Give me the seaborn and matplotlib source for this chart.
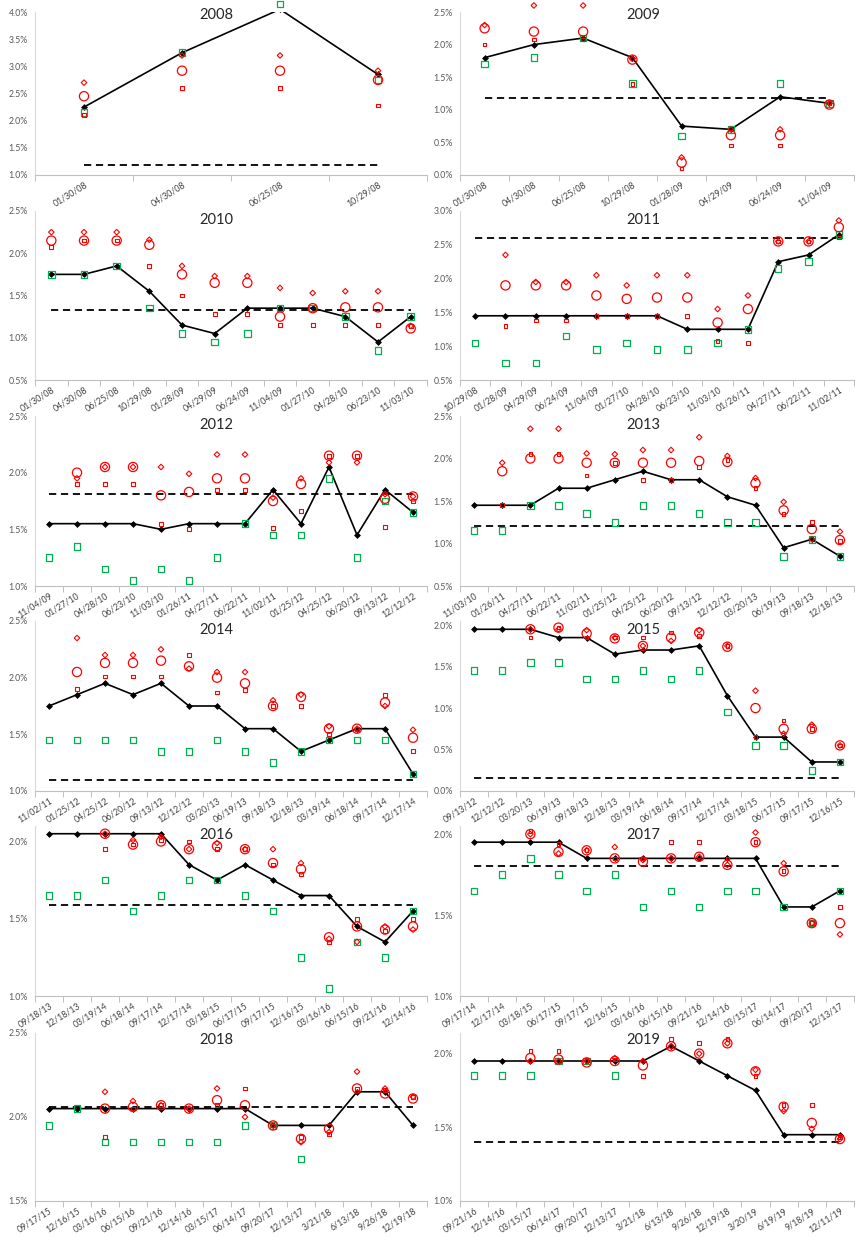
import numpy as np
import pandas as pd
import matplotlib
matplotlib.use("Agg")
import matplotlib.pyplot as plt
import seaborn as sns

nan = np.nan

# ---- data (values in %) ----
dates_2008 = ["01/30/08", "04/30/08", "06/25/08", "10/29/08"]
black_2008 = [2.25, 3.25, 4.05, 2.85]
target_2008 = 1.19
circle_2008 = [2.45, 2.92, 2.92, 2.75]
diamond_2008 = [2.70, 3.20, 3.20, 2.92]
square_2008 = [2.10, 2.60, 2.60, 2.28]
green_2008 = [2.15, 3.25, 4.15, 2.75]

dates_2009 = ["01/30/08", "04/30/08", "06/25/08", "10/29/08", "01/28/09", "04/29/09", "06/24/09", "11/04/09"]
black_2009 = [1.80, 2.00, 2.10, 1.80, 0.75, 0.70, 1.20, 1.10]
target_2009 = 1.18
circle_2009 = [2.25, 2.20, 2.20, 1.77, 0.19, 0.61, 0.61, 1.08]
diamond_2009 = [2.30, 2.60, 2.60, 1.78, 0.27, 0.70, 0.70, 1.10]
square_2009 = [2.00, 2.08, 2.08, 1.40, 0.10, 0.45, 0.45, 1.10]
green_2009 = [1.70, 1.80, 2.10, 1.40, 0.60, 0.70, 1.40, 1.10]

dates_2010 = ["01/30/08", "04/30/08", "06/25/08", "10/29/08", "01/28/09", "04/29/09", "06/24/09", "11/04/09",
              "01/27/10", "04/28/10", "06/23/10", "11/03/10"]
black_2010 = [1.75, 1.75, 1.85, 1.55, 1.15, 1.05, 1.35, 1.35, 1.35, 1.25, 0.95, 1.25]
target_2010 = 1.33
circle_2010 = [2.15, 2.15, 2.15, 2.10, 1.75, 1.65, 1.65, 1.25, 1.35, 1.36, 1.36, 1.11]
diamond_2010 = [2.25, 2.25, 2.25, 2.16, 1.85, 1.73, 1.73, 1.59, 1.53, 1.55, 1.55, 1.14]
square_2010 = [2.07, 2.15, 2.15, 1.85, 1.50, 1.28, 1.28, 1.15, 1.15, 1.15, 1.15, 1.14]
green_2010 = [1.75, 1.75, 1.85, 1.35, 1.05, 0.95, 1.05, 1.35, 1.35, 1.25, 0.85, 1.25]

dates_2011 = ["10/29/08", "01/28/09", "04/29/09", "06/24/09", "11/04/09", "01/27/10", "04/28/10", "06/23/10",
              "11/03/10", "01/26/11", "04/27/11", "06/22/11", "11/02/11"]
black_2011 = [1.45, 1.45, 1.45, 1.45, 1.45, 1.45, 1.45, 1.25, 1.25, 1.25, 2.25, 2.35, 2.65]
target_2011 = 2.60
circle_2011 = [nan, 1.90, 1.90, 1.90, 1.75, 1.70, 1.72, 1.72, 1.35, 1.55, 2.55, 2.55, 2.76]
diamond_2011 = [nan, 2.35, 1.95, 1.95, 2.05, 1.90, 2.05, 2.05, 1.55, 1.75, 2.55, 2.55, 2.86]
square_2011 = [nan, 1.30, 1.38, 1.38, 1.45, 1.45, 1.45, 1.45, 1.08, 1.05, 2.55, 2.55, 2.61]
green_2011 = [1.05, 0.75, 0.75, 1.15, 0.95, 1.05, 0.95, 0.95, 1.05, 1.25, 2.15, 2.25, 2.65]

dates_2012 = ["11/04/09", "01/27/10", "04/28/10", "06/23/10", "11/03/10", "01/26/11", "04/27/11", "06/22/11",
              "11/02/11", "01/25/12", "04/25/12", "06/20/12", "09/13/12", "12/12/12"]
black_2012 = [1.55, 1.55, 1.55, 1.55, 1.50, 1.55, 1.55, 1.55, 1.85, 1.55, 2.05, 1.45, 1.85, 1.65]
target_2012 = 1.815
circle_2012 = [nan, 2.00, 2.05, 2.05, 1.80, 1.83, 1.95, 1.95, 1.75, 1.90, 2.15, 2.15, 1.77, 1.79]
diamond_2012 = [nan, 1.95, 2.05, 2.05, 2.05, 1.99, 2.16, 2.16, 1.78, 1.95, 2.09, 2.09, 1.81, 1.79]
square_2012 = [nan, 1.90, 1.90, 1.90, 1.55, 1.50, 1.85, 1.85, 1.51, 1.66, 2.15, 2.15, 1.52, 1.75]
green_2012 = [1.25, 1.35, 1.15, 1.05, 1.15, 1.05, 1.25, 1.55, 1.45, 1.45, 1.95, 1.25, 1.75, 1.65]

dates_2013 = ["11/03/10", "01/26/11", "04/27/11", "06/22/11", "11/02/11", "01/25/12", "04/25/12", "06/20/12",
              "09/13/12", "12/12/12", "03/20/13", "06/19/13", "09/18/13", "12/18/13"]
black_2013 = [1.45, 1.45, 1.45, 1.65, 1.65, 1.75, 1.85, 1.75, 1.75, 1.55, 1.45, 0.95, 1.05, 0.85]
target_2013 = 1.21
circle_2013 = [nan, 1.85, 2.00, 2.00, 1.95, 1.95, 1.95, 1.95, 1.97, 1.96, 1.71, 1.39, 1.17, 1.04]
diamond_2013 = [nan, 1.95, 2.35, 2.35, 2.06, 2.05, 2.10, 2.10, 2.25, 2.03, 1.77, 1.49, 1.05, 1.14]
square_2013 = [nan, 1.45, 2.05, 2.05, 1.80, 1.95, 1.75, 1.75, 1.90, 1.98, 1.65, 1.35, 1.25, 1.03]
green_2013 = [1.15, 1.15, 1.45, 1.45, 1.35, 1.25, 1.45, 1.45, 1.35, 1.25, 1.25, 0.85, 1.05, 0.85]

dates_2014 = ["11/02/11", "01/25/12", "04/25/12", "06/20/12", "09/13/12", "12/12/12", "03/20/13", "06/19/13",
              "09/18/13", "12/18/13", "03/19/14", "06/18/14", "09/17/14", "12/17/14"]
black_2014 = [1.75, 1.85, 1.95, 1.85, 1.95, 1.75, 1.75, 1.55, 1.55, 1.35, 1.45, 1.55, 1.55, 1.15]
target_2014 = 1.10
circle_2014 = [nan, 2.05, 2.13, 2.13, 2.15, 2.10, 2.00, 1.95, 1.75, 1.83, 1.55, 1.55, 1.78, 1.47]
diamond_2014 = [nan, 2.35, 2.20, 2.20, 2.25, 2.08, 2.05, 2.05, 1.80, 1.85, 1.57, 1.55, 1.75, 1.54]
square_2014 = [nan, 1.90, 2.01, 2.01, 2.01, 2.20, 1.87, 1.89, 1.75, 1.75, 1.50, 1.55, 1.85, 1.35]
green_2014 = [1.45, 1.45, 1.45, 1.45, 1.35, 1.35, 1.45, 1.35, 1.25, 1.35, 1.45, 1.45, 1.45, 1.15]

dates_2015 = ["09/13/12", "12/12/12", "03/20/13", "06/19/13", "09/18/13", "12/18/13", "03/19/14", "06/18/14",
              "09/17/14", "12/17/14", "03/18/15", "06/17/15", "09/17/15", "12/16/15"]
black_2015 = [1.95, 1.95, 1.95, 1.85, 1.85, 1.65, 1.70, 1.70, 1.75, 1.15, 0.65, 0.65, 0.35, 0.35]
target_2015 = 0.16
circle_2015 = [nan, nan, 1.95, 1.97, 1.90, 1.84, 1.75, 1.85, 1.91, 1.74, 1.00, 0.75, 0.75, 0.55]
diamond_2015 = [nan, nan, 1.95, 1.95, 1.94, 1.85, 1.75, 1.81, 1.94, 1.75, 1.21, 0.69, 0.80, 0.55]
square_2015 = [nan, nan, 1.85, 1.97, 1.85, 1.85, 1.85, 1.91, 1.87, 1.75, 0.65, 0.85, 0.75, 0.55]
green_2015 = [1.45, 1.45, 1.55, 1.55, 1.35, 1.35, 1.45, 1.35, 1.45, 0.95, 0.55, 0.55, 0.25, 0.35]

dates_2016 = ["09/18/13", "12/18/13", "03/19/14", "06/18/14", "09/17/14", "12/17/14", "03/18/15", "06/17/15",
              "09/17/15", "12/16/15", "03/16/16", "06/15/16", "09/21/16", "12/14/16"]
black_2016 = [2.05, 2.05, 2.05, 2.05, 2.05, 1.85, 1.75, 1.85, 1.75, 1.65, 1.65, 1.45, 1.35, 1.55]
target_2016 = 1.59
circle_2016 = [nan, nan, 2.05, 1.98, 2.00, 1.95, 1.97, 1.95, 1.86, 1.82, 1.38, 1.45, 1.43, 1.45]
diamond_2016 = [nan, nan, 2.05, 2.01, 2.03, 1.95, 1.99, 1.95, 1.95, 1.86, 1.37, 1.35, 1.45, 1.43]
square_2016 = [nan, nan, 1.95, 1.98, 2.01, 2.00, 1.95, 1.95, 1.85, 1.79, 1.35, 1.50, 1.42, 1.50]
green_2016 = [1.65, 1.65, 1.75, 1.55, 1.65, 1.75, 1.75, 1.65, 1.55, 1.25, 1.05, 1.35, 1.25, 1.55]

dates_2017 = ["09/17/14", "12/17/14", "03/18/15", "06/17/15", "09/17/15", "12/16/15", "03/16/16", "06/15/16",
              "09/21/16", "12/14/16", "03/15/17", "06/14/17", "09/20/17", "12/13/17"]
black_2017 = [1.95, 1.95, 1.95, 1.95, 1.85, 1.85, 1.85, 1.85, 1.85, 1.85, 1.85, 1.55, 1.55, 1.65]
target_2017 = 1.80
circle_2017 = [nan, nan, 2.00, 1.89, 1.90, 1.85, 1.83, 1.85, 1.86, 1.81, 1.95, 1.77, 1.45, 1.45]
diamond_2017 = [nan, nan, 2.00, 1.88, 1.90, 1.92, 1.84, 1.85, 1.86, 1.81, 2.01, 1.82, 1.45, 1.38]
square_2017 = [nan, nan, 2.02, 1.94, 1.90, 1.85, 1.85, 1.95, 1.95, 1.85, 1.95, 1.77, 1.45, 1.55]
green_2017 = [1.65, 1.75, 1.85, 1.75, 1.65, 1.75, 1.55, 1.65, 1.55, 1.65, 1.65, 1.55, 1.45, 1.65]

dates_2018 = ["09/17/15", "12/16/15", "03/16/16", "06/15/16", "09/21/16", "12/14/16", "03/15/17", "06/14/17",
              "09/20/17", "12/13/17", "3/21/18", "6/13/18", "9/26/18", "12/19/18"]
black_2018 = [2.05, 2.05, 2.05, 2.05, 2.05, 2.05, 2.05, 2.05, 1.95, 1.95, 1.95, 2.15, 2.15, 1.95]
target_2018 = 2.06
circle_2018 = [nan, nan, 2.05, 2.06, 2.07, 2.05, 2.10, 2.07, 1.95, 1.87, 1.93, 2.17, 2.14, 2.11]
diamond_2018 = [nan, nan, 2.15, 2.095, 2.07, 2.05, 2.17, 2.00, 1.95, 1.85, 1.91, 2.27, 2.17, 2.12]
square_2018 = [nan, nan, 1.88, 2.05, 2.07, 2.05, 2.07, 2.17, 1.95, 1.88, 1.90, 2.17, 2.16, 2.12]
green_2018 = [1.95, 2.05, 1.85, 1.85, 1.85, 1.85, 1.85, 1.95, 1.95, 1.75, nan, nan, nan, nan]

dates_2019 = ["09/21/16", "12/14/16", "03/15/17", "06/14/17", "09/20/17", "12/13/17", "3/21/18", "6/13/18",
              "9/26/18", "12/19/18", "3/20/19", "6/19/19", "9/18/19", "12/11/19"]
black_2019 = [1.95, 1.95, 1.95, 1.95, 1.95, 1.95, 1.95, 2.05, 1.95, 1.85, 1.75, 1.45, 1.45, 1.45]
target_2019 = 1.40
circle_2019 = [nan, nan, 1.97, 1.96, 1.94, 1.95, 1.92, 2.05, 2.00, 2.07, 1.88, 1.64, 1.53, 1.42]
diamond_2019 = [nan, nan, 1.95, 1.95, 1.95, 1.97, 1.95, 2.05, 2.00, 2.07, 1.89, 1.61, 1.49, 1.42]
square_2019 = [nan, nan, 2.02, 2.02, 1.95, 1.96, 1.85, 2.10, 2.07, 2.10, 1.85, 1.65, 1.65, 1.43]
green_2019 = [1.85, 1.85, 1.85, 1.95, 1.95, 1.85, nan, nan, nan, nan, nan, nan, nan, nan]

panels = [
    ("2008", dates_2008, black_2008, target_2008, circle_2008, diamond_2008, square_2008, green_2008, (1.0, 4.0)),
    ("2009", dates_2009, black_2009, target_2009, circle_2009, diamond_2009, square_2009, green_2009, (0.0, 2.5)),
    ("2010", dates_2010, black_2010, target_2010, circle_2010, diamond_2010, square_2010, green_2010, (0.5, 2.5)),
    ("2011", dates_2011, black_2011, target_2011, circle_2011, diamond_2011, square_2011, green_2011, (0.5, 3.0)),
    ("2012", dates_2012, black_2012, target_2012, circle_2012, diamond_2012, square_2012, green_2012, (1.0, 2.5)),
    ("2013", dates_2013, black_2013, target_2013, circle_2013, diamond_2013, square_2013, green_2013, (0.5, 2.5)),
    ("2014", dates_2014, black_2014, target_2014, circle_2014, diamond_2014, square_2014, green_2014, (1.0, 2.5)),
    ("2015", dates_2015, black_2015, target_2015, circle_2015, diamond_2015, square_2015, green_2015, (0.0, 2.05)),
    ("2016", dates_2016, black_2016, target_2016, circle_2016, diamond_2016, square_2016, green_2016, (1.0, 2.1)),
    ("2017", dates_2017, black_2017, target_2017, circle_2017, diamond_2017, square_2017, green_2017, (1.0, 2.05)),
    ("2018", dates_2018, black_2018, target_2018, circle_2018, diamond_2018, square_2018, green_2018, (1.5, 2.5)),
    ("2019", dates_2019, black_2019, target_2019, circle_2019, diamond_2019, square_2019, green_2019, (1.0, 2.14)),
]

sns.set_theme(style="white")
plt.rcParams["font.family"] = ["Lato", "DejaVu Sans"]

W, H = 855, 1243
fig = plt.figure(figsize=(W / 100, H / 100), dpi=100)
fig.patch.set_facecolor("white")

# pixel layout of plot areas
row_tops = [12, 211, 416, 621, 826, 1033]
row_bottoms = [175, 380, 586, 791, 996, 1201]
col_lefts = [35, 460]
col_widths = [392, 394]
panel_tops = [0, 205, 410, 615, 820, 1025]
panel_lefts = [0, 427]

RED = "#ff0000"
GREEN = "#00b050"


def draw_panel(ax, dates, black, target, circle, diamond, square, green, ylim):
    n = len(dates)
    df = pd.DataFrame({
        "pos": np.arange(n),
        "black": black,
        "target": [target] * n,
        "circle": circle,
        "diamond": diamond,
        "square": square,
        "green": green,
    })

    sns.lineplot(data=df, x="pos", y="target", ax=ax, color="black", linewidth=1.3,
                 linestyle=(0, (4, 2.6)), errorbar=None, zorder=2)
    sns.lineplot(data=df, x="pos", y="black", ax=ax, color="black", linewidth=1.2,
                 marker="D", markersize=3, markeredgecolor="black", markeredgewidth=0.5,
                 errorbar=None, zorder=3)
    sns.scatterplot(data=df, x="pos", y="green", ax=ax, marker="s", s=22, facecolor="none",
                    edgecolor=GREEN, linewidth=0.9, zorder=4, clip_on=False)
    sns.scatterplot(data=df, x="pos", y="circle", ax=ax, marker="o", s=44, facecolor="none",
                    edgecolor=RED, linewidth=0.9, zorder=5, clip_on=False)
    sns.scatterplot(data=df, x="pos", y="diamond", ax=ax, marker="D", s=8, facecolor="none",
                    edgecolor=RED, linewidth=0.8, zorder=6, clip_on=False)
    sns.scatterplot(data=df, x="pos", y="square", ax=ax, marker="s", s=7, facecolor="none",
                    edgecolor=RED, linewidth=0.8, zorder=6, clip_on=False)

    ax.set_xlim(-0.5, n - 0.5)
    ax.set_ylim(*ylim)
    ax.set_xticks(np.arange(n))
    ax.set_xticklabels(dates, rotation=32, ha="right", rotation_mode="anchor")
    ax.set_xticks(np.arange(-0.5, n, 1.0), minor=True)
    yt = np.arange(ylim[0], ylim[1] + 1e-9, 0.5)
    ax.set_yticks(yt)
    ax.set_yticklabels([f"{v:.1f}%" for v in yt])
    ax.set_xlabel("")
    ax.set_ylabel("")
    ax.tick_params(axis="x", which="major", length=0, pad=4, labelsize=6.3, labelcolor="#404040")
    ax.tick_params(axis="x", which="minor", length=4, width=0.7, color="#bfbfbf", direction="out",
                   bottom=True)
    ax.tick_params(axis="y", length=0, pad=5, labelsize=6.3, labelcolor="#595959")
    sns.despine(ax=ax)
    ax.spines["left"].set_color("#d9d9d9")
    ax.spines["bottom"].set_color("#bfbfbf")
    ax.spines["left"].set_linewidth(0.8)
    ax.spines["bottom"].set_linewidth(0.8)
    ax.set_facecolor("none")


for i, (year, dates, black, target, circle, diamond, square, green, ylim) in enumerate(panels):
    r, c = divmod(i, 2)
    left = col_lefts[c] / W
    width = col_widths[c] / W
    bottom = 1 - row_bottoms[r] / H
    height = (row_bottoms[r] - row_tops[r]) / H
    ax = fig.add_axes([left, bottom, width, height])
    draw_panel(ax, dates, black, target, circle, diamond, square, green, ylim)
    tx = (panel_lefts[c] + 216) / W
    ty = 1 - (panel_tops[r] + 15) / H
    fig.text(tx, ty, year, ha="center", va="center", fontsize=10.5, color="#262626")

fig.savefig("out.png", dpi=100)
plt.close(fig)
